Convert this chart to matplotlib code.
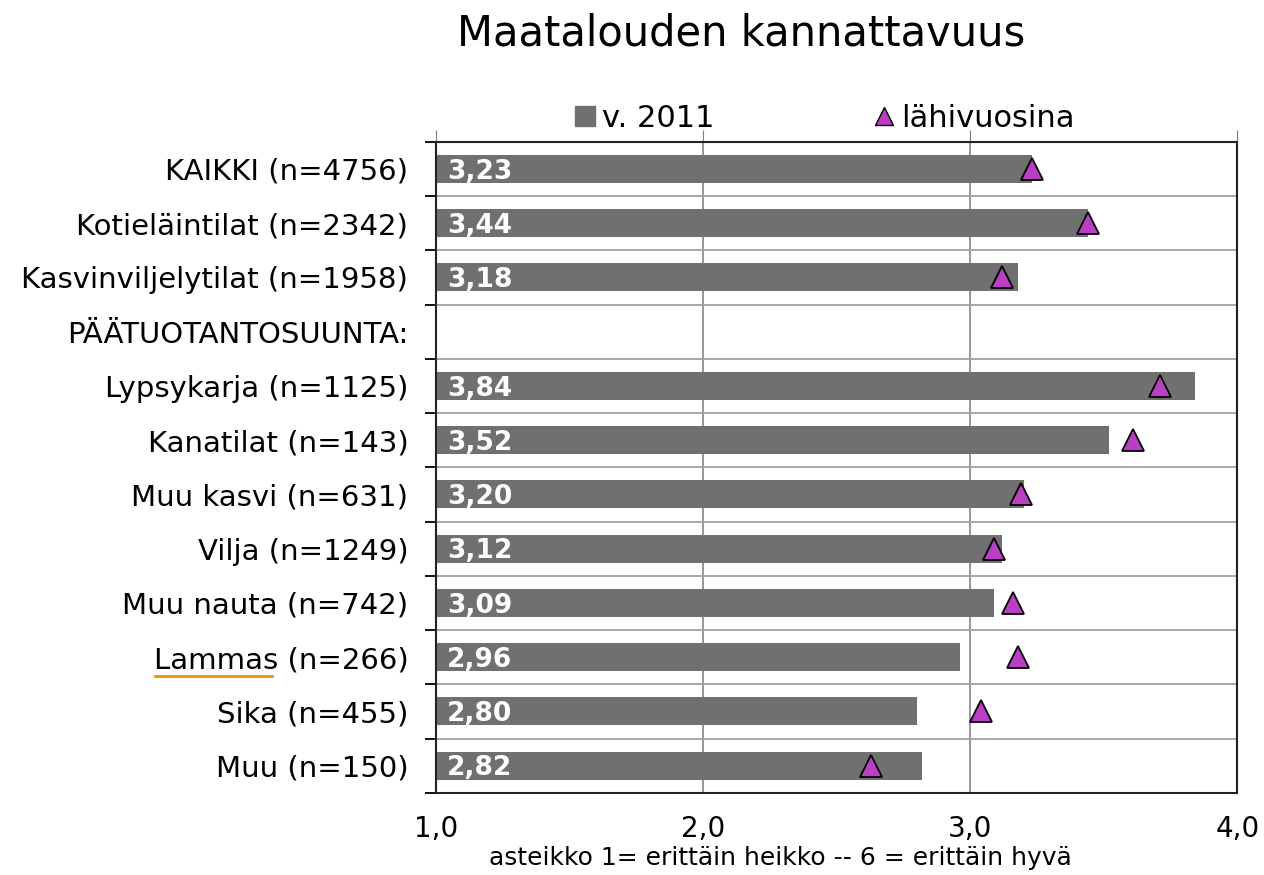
import matplotlib.pyplot as plt
from matplotlib.lines import Line2D
import numpy as np

categories = ['KAIKKI (n=4756)', 'Kotieläintilat (n=2342)', 'Kasvinviljelytilat (n=1958)',
              'PÄÄTUOTANTOSUUNTA:', 'Lypsykarja (n=1125)', 'Kanatilat (n=143)',
              'Muu kasvi (n=631)', 'Vilja (n=1249)', 'Muu nauta (n=742)',
              'Lammas (n=266)', 'Sika (n=455)', 'Muu (n=150)']
v2011 = [3.23, 3.44, 3.18, np.nan, 3.84, 3.52, 3.20, 3.12, 3.09, 2.96, 2.80, 2.82]
lahivuosina = [3.23, 3.44, 3.12, np.nan, 3.71, 3.61, 3.19, 3.09, 3.16, 3.18, 3.04, 2.63]
x_ticks = [1.0, 2.0, 3.0, 4.0]

BAR_COLOR = '#707070'
TRI_COLOR = '#b93fc4'

fig = plt.figure(figsize=(12.64, 8.75), dpi=100)
ax = fig.add_axes([0.345, 0.094, 0.634, 0.744])

y = np.arange(len(categories))
widths = [v - 1.0 for v in v2011]
ax.barh(y, widths, left=1.0, height=0.52, color=BAR_COLOR, zorder=2)
ax.plot(lahivuosina, y, linestyle='none', marker='^', markersize=16,
        markerfacecolor=TRI_COLOR, markeredgecolor='black', markeredgewidth=1.3, zorder=3)

for yi, v in zip(y, v2011):
    if not np.isnan(v):
        ax.text(1.04, yi + 0.05, f'{v:.2f}'.replace('.', ','), color='white', fontsize=19,
                fontweight='bold', va='center', ha='left', zorder=4)

ax.set_xlim(1.0, 4.0)
ax.set_ylim(len(categories) - 0.5, -0.5)

ax.set_xticks(x_ticks)
ax.set_xticklabels([f'{t:.1f}'.replace('.', ',') for t in x_ticks], fontsize=20)
ax.tick_params(axis='x', which='major', bottom=False, top=True, labeltop=False,
               direction='out', length=9, color='#808080', pad=7)
ax.grid(axis='x', color='#909090', linewidth=1.3, zorder=1)

ax.set_yticks(y)
ax.set_yticklabels(categories, fontsize=21)
ax.set_yticks(np.arange(-0.5, len(categories)), minor=True)
ax.tick_params(axis='y', which='major', length=0, pad=20)
ax.tick_params(axis='y', which='minor', length=8, width=1.3, direction='out')
ax.grid(axis='y', which='minor', color='#a0a0a0', linewidth=1.3, zorder=1)

for side in ['left', 'right', 'top', 'bottom']:
    ax.spines[side].set_linewidth(1.5)
    ax.spines[side].set_color('#222222')

handles = [Line2D([], [], linestyle='none', marker='s', markersize=14,
                  markerfacecolor=BAR_COLOR, markeredgecolor=BAR_COLOR),
           Line2D([], [], linestyle='none', marker='^', markersize=13,
                  markerfacecolor=TRI_COLOR, markeredgecolor='black')]
ax.legend(handles, ['v. 2011', 'lähivuosina'], loc='lower center', bbox_to_anchor=(0.485, 0.995),
          ncol=2, frameon=False, fontsize=22, handlelength=0.7, handletextpad=0.2,
          columnspacing=5.2, borderaxespad=0)

fig.text(0.586, 0.962, 'Maatalouden kannattavuus', fontsize=30, ha='center', va='center')
fig.text(0.617, 0.019, 'asteikko 1= erittäin heikko -- 6 = erittäin hyvä', fontsize=18,
         ha='center', va='center')

# orange underline below "Lammas", as in the source screenshot
fig.add_artist(Line2D([0.123, 0.215], [0.227, 0.227], color='#f0900a', linewidth=2))

fig.savefig('out.png', dpi=100)
